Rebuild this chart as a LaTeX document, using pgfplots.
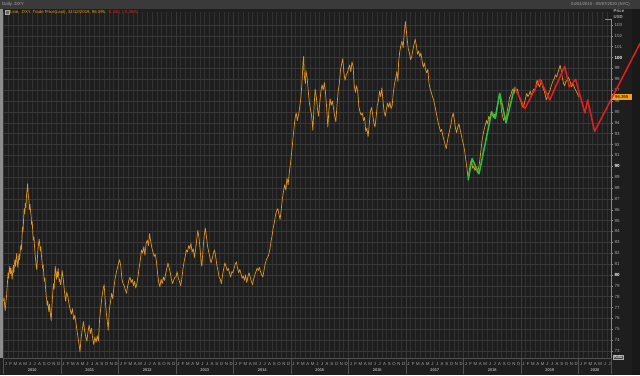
\documentclass[border=0pt]{standalone}
\usepackage{pgfplots}
\pgfplotsset{compat=1.18}
\usepackage{fontspec}
\setmainfont{Liberation Sans}
\definecolor{bg}{HTML}{1E1E1E}
\definecolor{titlebar}{HTML}{3A3A3A}
\definecolor{gridc}{HTML}{313131}
\definecolor{gridy}{HTML}{383838}
\definecolor{labc}{HTML}{A8A8A8}
\definecolor{ticc}{HTML}{8A8A8A}
\definecolor{sepc}{HTML}{505050}
\definecolor{dxy}{HTML}{E0961E}
\definecolor{legorange}{HTML}{E8A020}
\definecolor{legred}{HTML}{E02828}
\definecolor{redl}{HTML}{E41E26}
\definecolor{greenl}{HTML}{25C24A}
\definecolor{boxor}{HTML}{F0A21E}
\begin{document}
\begin{tikzpicture}[x=1pt,y=1pt]
\useasboundingbox (0,0) rectangle (640,375);
\fill[bg] (0,0) rectangle (640,375);
\fill[titlebar] (0,366) rectangle (640,375);
\fill[black!90] (632,0) rectangle (640,366);
\fill[black!45] (0,17) rectangle (2.5,366);
\begin{axis}[
  at={(3pt,17pt)}, anchor=south west, scale only axis,
  width=608pt, height=346pt,
  xmin=2009.9913, xmax=2020.5652, ymin=72.356, ymax=104.19,
  axis line style={draw=none},
  xtick={2010,...,2020},
  minor xtick={2010.083333,2010.166667,...,2020.5},
  xticklabels={}, xtick style={draw=none},
  minor tick length=0pt,
  grid=both,
  major grid style={gridy, line width=0.45pt},
  minor grid style={gridc, line width=0.45pt},
  ytick={73,...,103},
  ytick pos=right, yticklabel pos=right,
  tick align=outside, major tick length=2.5pt,
  ytick style={draw=ticc, line width=0.4pt},
  yticklabel style={font=\fontsize{4.5}{5}\selectfont, text=labc, inner sep=1pt},
  yticklabels={73,74,75,76,77,78,79,\textcolor{white}{\textbf{80}},81,82,83,84,85,86,87,88,89,\textcolor{white}{\textbf{90}},91,92,93,94,95,96,97,98,99,\textcolor{white}{\textbf{100}},101,102,103},
  clip=false,
]
\addplot[dxy, line width=0.7pt, no markers, line join=round] coordinates {
(2010.00,77.6) (2010.01,77.9) (2010.02,77.2) (2010.03,76.7) (2010.04,77.4) (2010.05,77.9) (2010.06,78.6) (2010.07,79.4) (2010.08,80.2) (2010.09,79.7)
(2010.10,80.4) (2010.11,80.8) (2010.12,80.1) (2010.13,80.6) (2010.14,80.2) (2010.15,79.6) (2010.16,80.3) (2010.17,80.9) (2010.18,80.2) (2010.19,81.0)
(2010.20,81.4) (2010.21,80.8) (2010.22,81.5) (2010.23,82.0) (2010.24,81.2) (2010.25,80.7) (2010.26,81.3) (2010.27,81.9) (2010.28,81.4) (2010.29,82.1)
(2010.30,82.7) (2010.31,82.3) (2010.32,83.3) (2010.33,84.4) (2010.34,84.0) (2010.35,85.2) (2010.36,86.1) (2010.37,85.6) (2010.38,86.6) (2010.39,86.2)
(2010.40,87.3) (2010.41,87.8) (2010.42,88.4) (2010.43,87.4) (2010.44,87.0) (2010.45,86.0) (2010.46,86.5) (2010.47,85.9) (2010.48,85.4) (2010.49,84.6)
(2010.50,84.9) (2010.51,83.8) (2010.52,83.2) (2010.53,83.5) (2010.54,82.6) (2010.55,81.9) (2010.56,81.3) (2010.57,80.7) (2010.58,80.5) (2010.59,81.6)
(2010.60,82.4) (2010.61,82.9) (2010.62,83.3) (2010.63,82.8) (2010.64,82.2) (2010.65,82.6) (2010.66,81.8) (2010.67,81.2) (2010.68,80.6) (2010.69,80.9)
(2010.70,80.1) (2010.71,79.4) (2010.72,79.7) (2010.73,78.9) (2010.74,78.2) (2010.75,77.8) (2010.76,77.2) (2010.77,77.6) (2010.78,77.0) (2010.79,76.6)
(2010.80,77.3) (2010.81,76.8) (2010.82,76.2) (2010.83,75.8) (2010.84,76.9) (2010.85,77.8) (2010.86,78.6) (2010.87,79.2) (2010.88,78.7) (2010.89,79.8)
(2010.90,80.8) (2010.91,80.2) (2010.92,79.6) (2010.93,80.3) (2010.94,79.8) (2010.95,80.6) (2010.96,79.9) (2010.97,79.4) (2010.98,79.6) (2010.99,79.1)
(2011.00,79.2) (2011.02,80.4) (2011.04,79.6) (2011.06,78.5) (2011.08,77.6) (2011.10,78.4) (2011.12,78.0) (2011.14,77.3) (2011.16,76.8) (2011.18,76.4)
(2011.20,76.9) (2011.22,75.9) (2011.24,76.3) (2011.26,75.6) (2011.28,74.8) (2011.30,74.1) (2011.32,73.4) (2011.33,72.9) (2011.35,74.2) (2011.37,75.0)
(2011.39,75.7) (2011.41,74.9) (2011.43,74.3) (2011.45,73.9) (2011.47,74.8) (2011.49,75.4) (2011.51,74.6) (2011.53,75.1) (2011.55,74.2) (2011.57,73.6)
(2011.59,74.3) (2011.61,73.8) (2011.63,74.4) (2011.65,73.9) (2011.67,75.8) (2011.69,76.9) (2011.71,77.9) (2011.73,78.6) (2011.75,79.1) (2011.77,77.6)
(2011.79,76.4) (2011.81,75.5) (2011.82,74.9) (2011.84,76.8) (2011.86,77.5) (2011.88,78.3) (2011.90,77.8) (2011.92,78.9) (2011.94,79.6) (2011.96,80.2)
(2011.98,80.6)
(2012.00,81.1) (2012.02,81.4) (2012.04,80.8) (2012.06,79.6) (2012.08,79.2) (2012.10,79.0) (2012.12,78.6) (2012.14,78.3) (2012.16,79.0) (2012.18,79.5)
(2012.20,79.8) (2012.22,79.3) (2012.24,79.6) (2012.26,79.0) (2012.28,79.4) (2012.30,78.8) (2012.32,79.2) (2012.34,79.9) (2012.36,80.7) (2012.38,81.4)
(2012.40,82.3) (2012.42,82.0) (2012.44,82.6) (2012.46,81.8) (2012.48,82.9) (2012.50,83.2) (2012.52,82.7) (2012.54,83.8) (2012.56,83.1) (2012.58,82.5)
(2012.60,82.1) (2012.62,81.7) (2012.64,81.9) (2012.66,81.2) (2012.68,80.1) (2012.70,79.3) (2012.72,78.9) (2012.74,79.6) (2012.76,79.2) (2012.78,79.8)
(2012.80,79.5) (2012.82,80.1) (2012.84,80.6) (2012.86,81.1) (2012.88,80.7) (2012.90,80.2) (2012.92,79.6) (2012.94,79.2) (2012.96,79.5) (2012.98,79.8)
(2013.00,79.8) (2013.02,80.3) (2013.04,79.7) (2013.06,79.4) (2013.08,79.0) (2013.10,79.6) (2013.12,80.5) (2013.14,81.2) (2013.16,81.7) (2013.18,82.3)
(2013.20,82.1) (2013.22,82.7) (2013.24,82.4) (2013.26,82.9) (2013.28,82.1) (2013.30,82.4) (2013.32,81.6) (2013.34,82.3) (2013.36,83.2) (2013.38,84.1)
(2013.40,83.4) (2013.42,82.3) (2013.44,81.0) (2013.45,80.8) (2013.47,82.4) (2013.49,83.6) (2013.51,84.3) (2013.53,83.5) (2013.55,82.6) (2013.57,82.1)
(2013.59,81.6) (2013.61,81.1) (2013.63,81.5) (2013.65,82.0) (2013.67,82.3) (2013.69,81.7) (2013.71,80.9) (2013.73,80.4) (2013.75,79.8) (2013.77,79.6)
(2013.79,79.2) (2013.81,80.0) (2013.83,80.6) (2013.85,81.1) (2013.87,80.8) (2013.89,80.4) (2013.91,80.6) (2013.93,80.2) (2013.95,79.8) (2013.97,80.3)
(2013.99,80.2)
(2014.01,80.6) (2014.03,81.0) (2014.05,81.2) (2014.07,80.6) (2014.09,80.2) (2014.11,80.5) (2014.13,80.1) (2014.15,79.7) (2014.17,79.9) (2014.19,79.5)
(2014.21,80.0) (2014.23,79.3) (2014.25,79.8) (2014.27,80.2) (2014.29,79.8) (2014.31,79.4) (2014.33,79.1) (2014.35,79.6) (2014.37,80.0) (2014.39,80.3)
(2014.41,80.6) (2014.43,80.4) (2014.45,80.7) (2014.47,80.3) (2014.49,80.0) (2014.51,79.8) (2014.53,80.4) (2014.55,81.0) (2014.57,81.4) (2014.59,81.6)
(2014.61,81.8) (2014.63,82.3) (2014.65,83.0) (2014.67,83.6) (2014.69,84.3) (2014.71,84.8) (2014.73,85.5) (2014.75,85.9) (2014.77,86.1) (2014.79,85.6)
(2014.81,85.1) (2014.83,86.0) (2014.85,87.0) (2014.87,87.7) (2014.89,88.3) (2014.91,87.8) (2014.93,88.9) (2014.95,88.3) (2014.97,89.4) (2014.99,90.2)
(2015.01,91.2) (2015.03,92.3) (2015.05,93.4) (2015.07,94.4) (2015.09,94.9) (2015.11,94.2) (2015.13,94.7) (2015.15,95.4) (2015.17,96.2) (2015.19,97.6)
(2015.21,99.6) (2015.22,100.1) (2015.23,98.4) (2015.25,97.6) (2015.26,98.8) (2015.28,98.2) (2015.30,96.9) (2015.32,95.8) (2015.34,95.2) (2015.36,94.6)
(2015.38,93.3) (2015.40,95.4) (2015.42,97.1) (2015.44,96.4) (2015.46,95.3) (2015.48,94.6) (2015.50,95.8) (2015.52,96.9) (2015.54,97.5) (2015.56,97.0)
(2015.58,97.7) (2015.60,96.8) (2015.62,95.4) (2015.64,93.6) (2015.66,95.2) (2015.68,96.2) (2015.70,95.6) (2015.72,96.0) (2015.74,95.3) (2015.76,94.6)
(2015.78,94.1) (2015.80,95.6) (2015.82,96.9) (2015.84,97.6) (2015.86,98.8) (2015.88,99.4) (2015.90,99.9) (2015.92,98.6) (2015.94,97.9) (2015.96,98.4)
(2015.98,98.6)
(2016.00,99.0) (2016.02,99.3) (2016.04,98.7) (2016.06,99.6) (2016.08,99.2) (2016.10,97.4) (2016.12,96.8) (2016.14,97.4) (2016.16,96.9) (2016.18,95.5)
(2016.20,95.0) (2016.22,94.7) (2016.24,94.9) (2016.26,94.2) (2016.28,94.5) (2016.30,93.2) (2016.32,93.5) (2016.34,92.7) (2016.36,93.8) (2016.38,95.0)
(2016.40,95.4) (2016.42,94.8) (2016.44,94.0) (2016.46,93.6) (2016.48,94.5) (2016.50,95.6) (2016.52,96.0) (2016.54,96.9) (2016.56,96.4) (2016.58,97.2)
(2016.60,96.0) (2016.62,95.0) (2016.64,94.6) (2016.66,95.3) (2016.68,95.8) (2016.70,95.4) (2016.72,95.9) (2016.74,95.3) (2016.76,95.6) (2016.78,96.8)
(2016.80,97.6) (2016.82,98.1) (2016.84,98.7) (2016.86,97.8) (2016.87,99.5) (2016.89,100.5) (2016.91,101.1) (2016.93,101.5) (2016.95,100.9) (2016.97,102.3)
(2016.99,103.3)
(2017.00,102.8) (2017.02,101.7) (2017.04,100.8) (2017.06,100.4) (2017.08,99.8) (2017.10,100.1) (2017.12,100.7) (2017.14,101.2) (2017.16,101.7) (2017.18,101.1)
(2017.20,100.3) (2017.22,100.6) (2017.24,100.1) (2017.26,100.4) (2017.28,99.7) (2017.30,99.1) (2017.32,99.5) (2017.34,98.9) (2017.36,98.6) (2017.38,98.9)
(2017.40,97.6) (2017.42,97.1) (2017.44,96.8) (2017.46,96.4) (2017.48,96.1) (2017.50,95.6) (2017.52,95.1) (2017.54,94.5) (2017.56,94.0) (2017.58,93.6)
(2017.60,93.2) (2017.62,93.4) (2017.64,92.8) (2017.66,92.4) (2017.68,92.0) (2017.70,91.6) (2017.72,92.3) (2017.74,92.9) (2017.76,93.3) (2017.78,93.8)
(2017.80,94.5) (2017.82,94.9) (2017.84,94.3) (2017.86,93.5) (2017.88,93.1) (2017.90,93.6) (2017.92,93.9) (2017.94,93.4) (2017.96,92.9) (2017.98,92.4)
(2018.00,92.0) (2018.02,91.4) (2018.04,90.6) (2018.06,89.8) (2018.08,88.9) (2018.10,89.6) (2018.12,90.3) (2018.14,90.6) (2018.16,89.8) (2018.18,90.0)
(2018.20,89.6) (2018.22,89.9) (2018.24,89.4) (2018.26,89.8) (2018.28,90.4) (2018.30,91.3) (2018.32,92.3) (2018.34,92.9) (2018.36,93.4) (2018.38,93.8)
(2018.40,94.2) (2018.42,93.9) (2018.44,94.6) (2018.46,94.3) (2018.48,95.0) (2018.50,94.7) (2018.52,94.5) (2018.54,94.8) (2018.56,94.4) (2018.58,95.2)
(2018.60,95.8) (2018.62,96.5) (2018.64,96.2) (2018.66,95.1) (2018.68,94.6) (2018.70,94.2) (2018.72,94.6) (2018.74,94.0) (2018.76,95.1) (2018.78,95.6)
(2018.80,96.3) (2018.82,96.5) (2018.84,96.9) (2018.86,97.1) (2018.88,96.7) (2018.90,97.2) (2018.92,96.8) (2018.94,97.1) (2018.96,96.5) (2018.98,96.2)
(2019.00,95.9) (2019.02,95.6) (2019.04,95.4) (2019.06,95.8) (2019.08,96.3) (2019.10,96.7) (2019.12,96.4) (2019.14,96.6) (2019.16,96.9) (2019.18,96.5)
(2019.20,96.8) (2019.22,97.1) (2019.24,96.9) (2019.26,97.4) (2019.28,97.9) (2019.30,97.6) (2019.32,97.3) (2019.34,97.6) (2019.36,97.9) (2019.38,97.2)
(2019.40,97.0) (2019.42,96.6) (2019.44,96.1) (2019.46,96.4) (2019.48,96.7) (2019.50,96.9) (2019.52,97.3) (2019.54,97.6) (2019.56,97.9) (2019.58,98.1)
(2019.60,98.4) (2019.62,98.2) (2019.64,98.6) (2019.66,98.9) (2019.68,99.3) (2019.70,98.8) (2019.72,98.1) (2019.74,97.6) (2019.76,97.4) (2019.78,97.8)
(2019.80,97.9) (2019.82,98.2) (2019.84,98.0) (2019.86,97.7) (2019.88,97.3) (2019.90,97.6) (2019.92,97.4) (2019.94,97.1) (2019.96,96.9) (2019.98,96.7)
(2020.00,96.395)
};
\addplot[greenl, line width=1.5pt, no markers, line join=round] coordinates {
(2018.08,88.7) (2018.15,90.7) (2018.27,89.3) (2018.49,95.0) (2018.55,94.4) (2018.63,96.7) (2018.74,94.0) (2018.89,97.3)
};
\node[fill=boxor, text=black, anchor=west, inner sep=0pt, minimum width=21pt, minimum height=6pt, font=\fontsize{4.3}{5}\selectfont] at (axis cs:2020.5652,96.395) {96.395};
\addplot[redl, line width=1.5pt, no markers, line join=round] coordinates {
(2018.89,97.3) (2019.07,95.3) (2019.33,98.0) (2019.50,96.1) (2019.76,99.2) (2019.84,97.3) (2019.95,98.0) (2020.11,94.9) (2020.16,96.1) (2020.28,93.2) (2021.07,101.3)
};
\end{axis}
% right axis line
\draw[ticc, line width=0.5pt] (611,17) -- (611,356) -- (605,356);
% bottom axis line
\draw[sepc, line width=0.5pt] (3,17) -- (611,17);
% month labels
\foreach \yr in {0,...,9}{
  \foreach \m/\l in {0/J,1/F,2/M,3/A,4/M,5/J,6/J,7/A,8/S,9/O,10/N,11/D}{
    \node[text=labc, font=\fontsize{4.3}{5}\selectfont, inner sep=0pt] at ({3.5+57.5*(\yr+(\m+0.5)/12)},10.5) {\l};
  }
}
\foreach \m/\l in {0/J,1/F,2/M,3/A,4/M,5/J,6/J}{
  \node[text=labc, font=\fontsize{4.3}{5}\selectfont, inner sep=0pt] at ({3.5+57.5*(10+(\m+0.5)/12)},10.5) {\l};
}
% year labels
\foreach \yr/\lab in {0/2010,1/2011,2/2012,3/2013,4/2014,5/2015,6/2016,7/2017,8/2018,9/2019}{
  \node[text=labc, font=\fontsize{4.0}{5}\selectfont\bfseries, inner sep=0pt] at ({3.5+57.5*(\yr+0.5)},4.5) {\lab};
}
\node[text=labc, font=\fontsize{4.0}{5}\selectfont\bfseries, inner sep=0pt] at (595,4.5) {2020};
% separators
\foreach \yr in {1,...,10}{
  \draw[sepc, line width=0.4pt] ({3.5+57.5*\yr},1) -- ({3.5+57.5*\yr},17);
}
\draw[sepc, line width=0.4pt] (3.5,1) -- (3.5,17);
\draw[sepc, line width=0.4pt] (611,1) -- (611,17);
% Auto box
\node[draw=labc, text=white, fill=black!70, inner sep=0.6pt, line width=0.3pt, font=\fontsize{4.3}{5}\selectfont, anchor=west] at (613,18) {Auto};
% title bar texts
\node[anchor=west, text=labc, font=\fontsize{4.5}{5}\selectfont, inner sep=0pt] at (2,370.5) {Daily .DXY};
\node[anchor=east, text=labc, font=\fontsize{4.2}{5}\selectfont, inner sep=0pt] at (630,370.5) {04/01/2010 - 09/07/2020 (NYC)};
% legend
\draw[labc, fill=black!60, line width=0.3pt] (5,360.5) rectangle (9,364.5);
\node[anchor=west, font=\fontsize{4.3}{5}\selectfont, inner sep=0pt] at (10,362.5) {\textcolor{legorange}{Line, .DXY, Trade Price(Last), 31/12/2019, 96.395, }\textcolor{legred}{-0.340, (-0.36\%)}};
% price / usd
\node[anchor=west, text=labc, font=\fontsize{4.3}{5}\selectfont\bfseries, inner sep=0pt] at (613.5,364.5) {Price};
\node[anchor=west, text=labc, font=\fontsize{4.3}{5}\selectfont\bfseries, inner sep=0pt] at (613.5,358) {USD};
\end{tikzpicture}
\end{document}
